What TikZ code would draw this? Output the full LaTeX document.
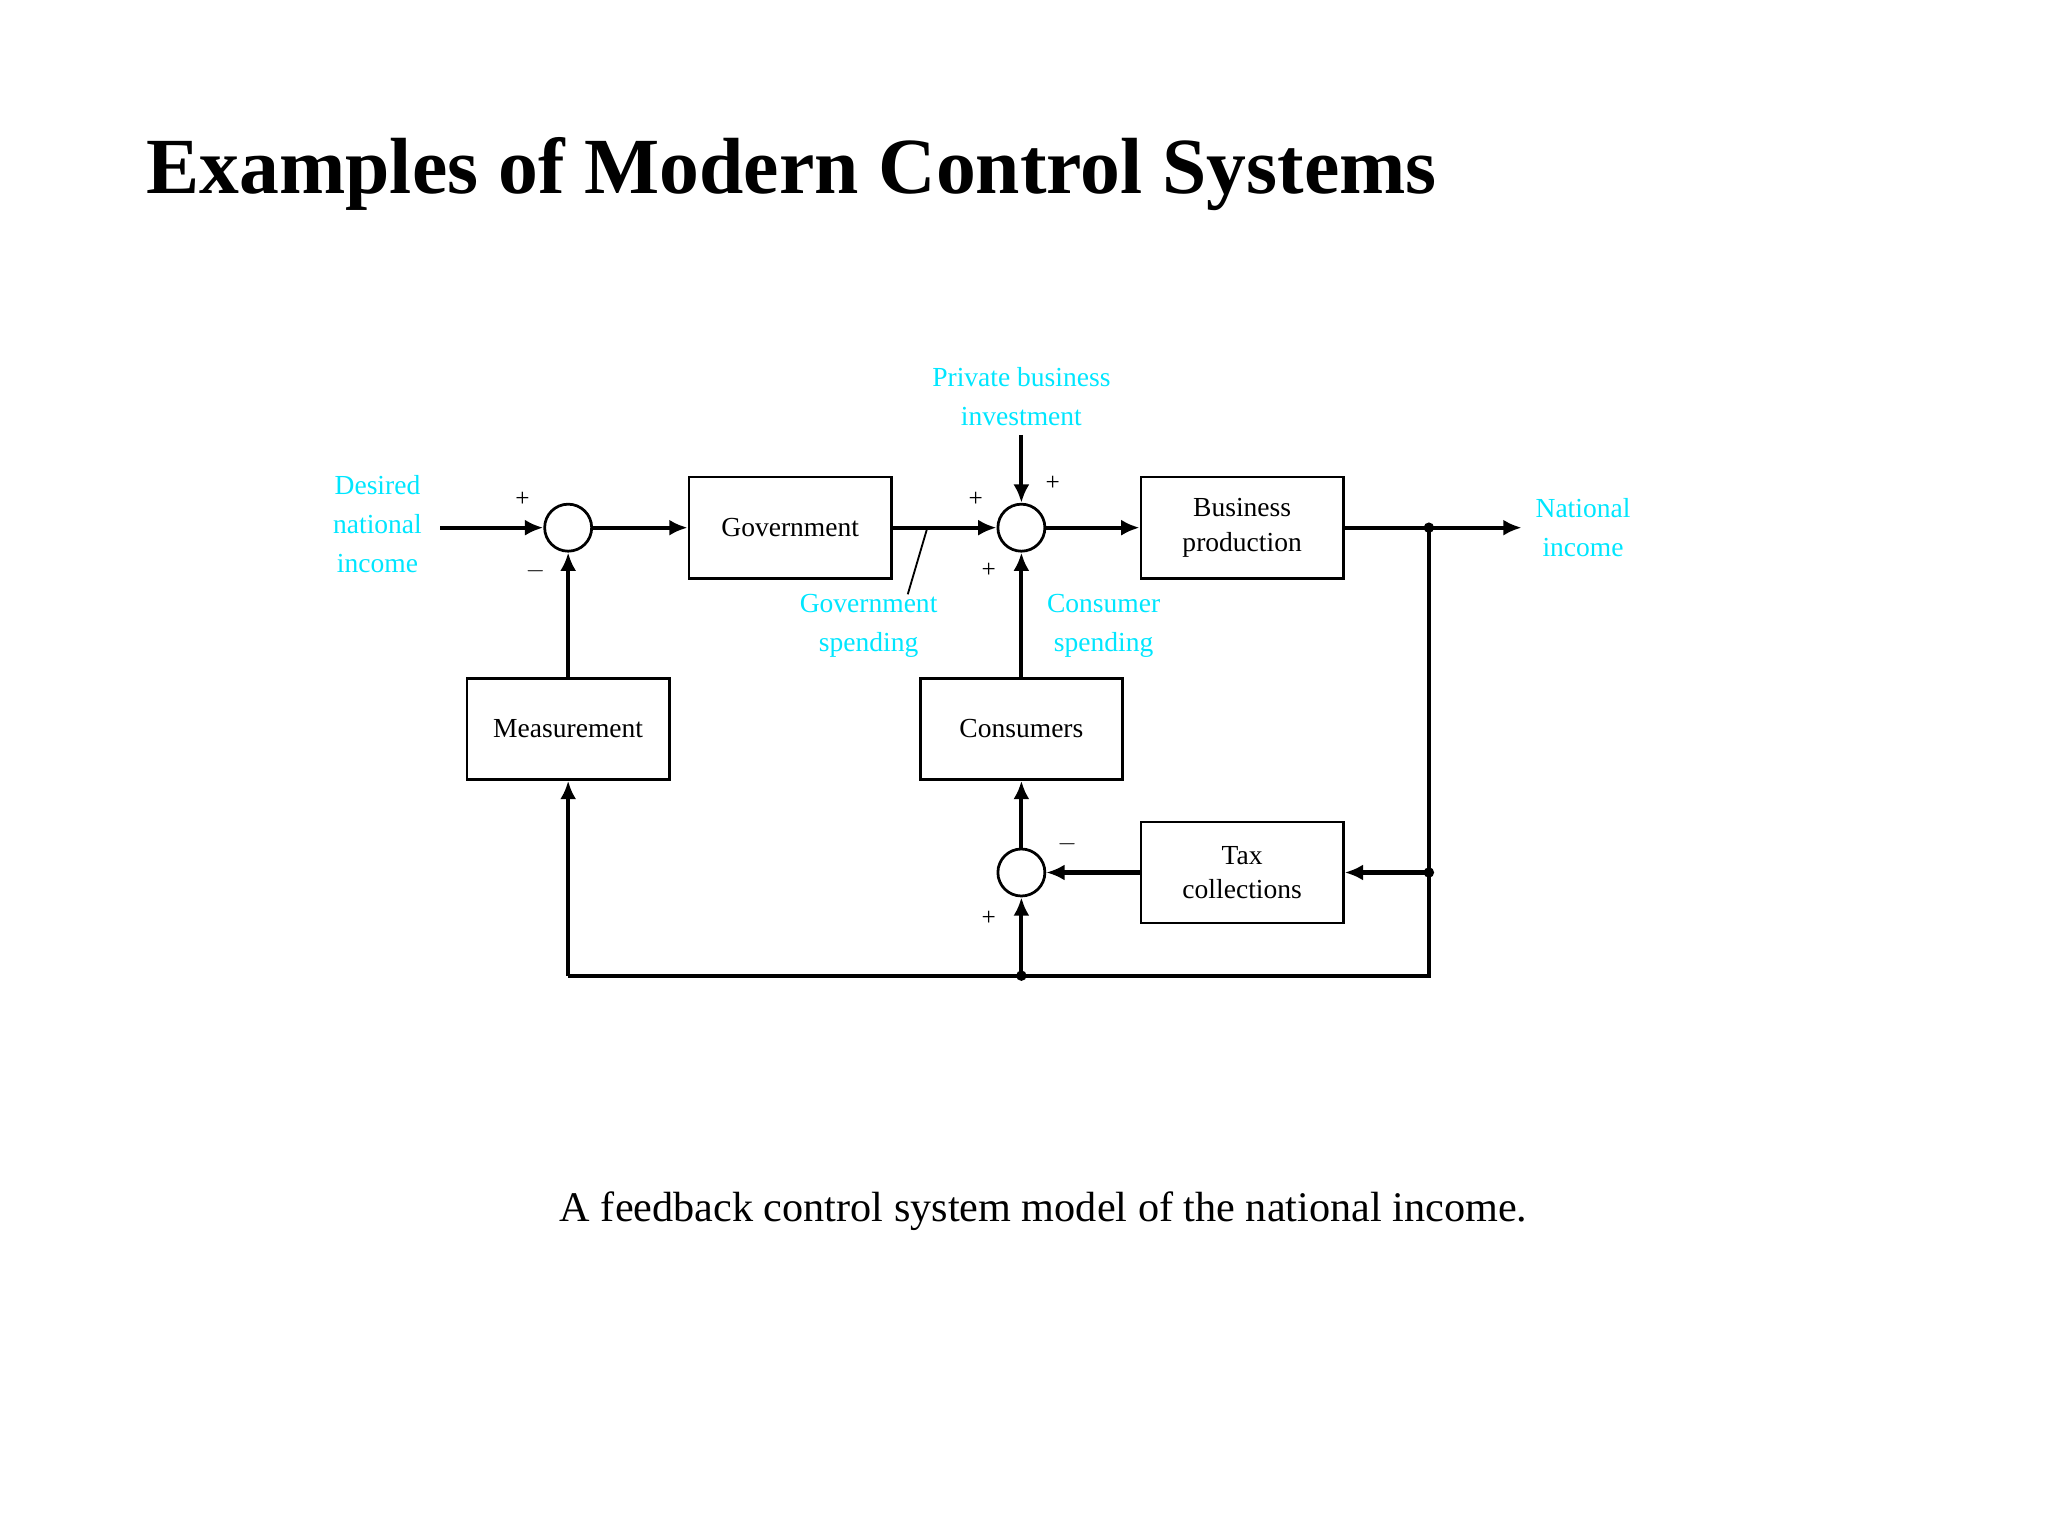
\documentclass[tikz,border=0pt]{standalone}
\usepackage{fontspec}
\setmainfont{Liberation Serif}
\usetikzlibrary{arrows.meta,positioning}
\definecolor{sigcyan}{RGB}{0,230,255}

\tikzset{
  blk/.style={draw,line width=1.2pt,minimum width=3.1cm,minimum height=1.55cm,align=center,font=\fontsize{12}{15}\selectfont},
  sumj/.style={draw,circle,line width=1.2pt,minimum size=0.72cm,inner sep=0pt},
  sig/.style={line width=1.8pt,-{Latex[length=8pt,width=7pt]}},
  lbl/.style={text=sigcyan,align=center,font=\fontsize{12}{17}\selectfont},
  sgn/.style={font=\fontsize{11}{11}\selectfont}
}

\begin{document}
\begin{tikzpicture}[x=0.02cm,y=-0.02cm]
  \useasboundingbox (0,0) rectangle (1568,1176);
  \node[anchor=base west,font=\bfseries\fontsize{34.7}{40}\selectfont] (title) at (106,148) {Examples of Modern Control Systems};

  % blocks
  \node[sumj] (s1) at (435,404) {};
  \node[blk] (gov) at (605,404) {Government};
  \node[sumj] (s2) at (782,404) {};
  \node[blk] (bus) at (951,404) {Business\\production};
  \node[blk] (meas) at (435,558) {Measurement};
  \node[blk] (cons) at (782,558) {Consumers};
  \node[blk] (tax) at (951,668) {Tax\\collections};
  \node[sumj] (s3) at (782,668) {};

  % labels
  \node[lbl] (des) at (289,401) {Desired\\national\\income};
  \node[lbl] (nat) at (1212,404) {National\\income};
  \node[lbl] (pbi) at (782,304) {Private business\\investment};
  \node[lbl] (gsp) at (665,479) {Government\\spending};
  \node[lbl] (csp) at (845,479) {Consumer\\spending};

  \coordinate (in) at (337,404);
  \coordinate (out) at (1165,404);
  \coordinate (br) at (1094,404);
  \coordinate (bt) at (1094,668);
  \coordinate (bb) at (1094,747);
  \coordinate (bm) at (782,747);
  \coordinate (pb) at (782,333);
  \coordinate (gs) at (710,404);

  % signals
  \draw[sig] (in) -- (s1);
  \draw[sig] (s1) -- (gov);
  \draw[sig] (gov) -- (s2);
  \draw[sig] (pb) -- (s2);
  \draw[sig] (s2) -- (bus);
  \draw[sig] (bus) -- (out);
  \draw[sig] (cons) -- (s2);
  \draw[sig] (meas) -- (s1);
  \draw[sig] (br) -- (bt) -- (tax);
  \draw[sig] (tax) -- (s3);
  \draw[sig] (s3) -- (cons);
  \draw[line width=1.8pt] (bt) -- (bb) -- (435,747) coordinate (bl);
  \draw[sig] (bl) -- (meas);
  \draw[sig] (bm) -- (s3);
  \fill (br) circle (4) (bt) circle (4) (bm) circle (4);
  \draw[line width=0.8pt] (gs) -- (695,455);

  % signs
  \node[sgn] at (400,382) {+};
  \node[sgn] at (410,437) {$-$};
  \node[sgn] at (747,382) {+};
  \node[sgn] at (806,370) {+};
  \node[sgn] at (757,437) {+};
  \node[sgn] at (817,646) {$-$};
  \node[sgn] at (757,703) {+};

  \node[font=\fontsize{18.4}{22}\selectfont] (cap) at (799,927) {A feedback control system model of the national income.};
\end{tikzpicture}
\end{document}
